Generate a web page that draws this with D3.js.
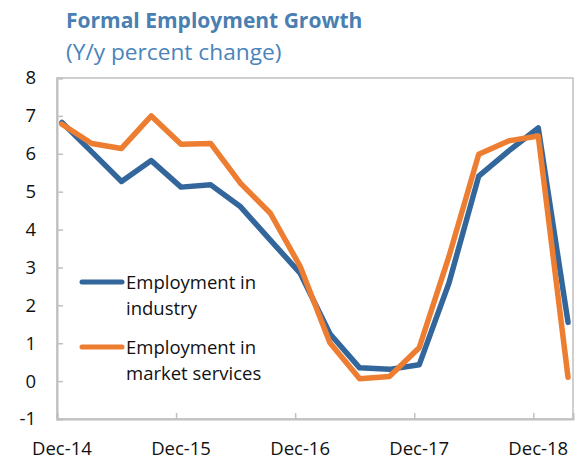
<!DOCTYPE html>
<html>
<head>
<meta charset="utf-8">
<script src="https://cdn.jsdelivr.net/npm/d3@7"></script>
<style>
  html, body { margin: 0; padding: 0; background: #fff; }
  svg { display: block; font-family: "Open Sans", "Noto Sans", sans-serif; }
</style>
</head>
<body>
<svg id="chart" width="580" height="462"></svg>
<script>
// Quarterly observations, Dec-14 through Mar-19
const quarters = ["Dec-14","Mar-15","Jun-15","Sep-15","Dec-15","Mar-16","Jun-16","Sep-16",
                  "Dec-16","Mar-17","Jun-17","Sep-17","Dec-17","Mar-18","Jun-18","Sep-18",
                  "Dec-18","Mar-19"];
const industry = [6.83, 6.05, 5.27, 5.82, 5.12, 5.18, 4.60, 3.72, 2.85, 1.25, 0.35, 0.31,
                  0.43, 2.59, 5.41, 6.07, 6.68, 1.55];
const services = [6.78, 6.27, 6.14, 7.00, 6.25, 6.27, 5.22, 4.43, 3.03, 1.01, 0.06, 0.12,
                  0.88, 3.29, 5.99, 6.34, 6.47, 0.10];
const seriesNames = [["Employment in", "industry"], ["Employment in", "market services"]];
const xTickLabels = ["Dec-14", "Dec-15", "Dec-16", "Dec-17", "Dec-18"];
const yTicks = [-1, 0, 1, 2, 3, 4, 5, 6, 7, 8];

const colors = ["#33679b", "#ed7d31"];
const svg = d3.select("#chart");

const plot = { left: 57, right: 573, top: 78, bottom: 419 };

// Monthly date axis: each quarter's point sits mid-month, year ticks on month boundaries
const months = quarters.length * 3 - 2;            // Dec-14 .. Mar-19 inclusive
const x = d3.scaleLinear().domain([0, months]).range([plot.left, plot.right]);
const y = d3.scaleLinear().domain([-1, 8]).range([plot.bottom, plot.top]);
const monthOf = i => i * 3 + 0.5;

// Title
svg.append("text").attr("x", 66).attr("y", 28)
  .attr("fill", "#4a7fb2").attr("font-weight", "bold").attr("font-size", 21)
  .text("Formal Employment Growth");
svg.append("text").attr("x", 66).attr("y", 60)
  .attr("fill", "#4a84bb").attr("font-size", 22.7)
  .text("(Y/y percent change)");

// Plot frame
svg.append("rect")
  .attr("x", plot.left).attr("y", plot.top)
  .attr("width", plot.right - plot.left).attr("height", plot.bottom - plot.top)
  .attr("fill", "none").attr("stroke", "#c0c0c0").attr("stroke-width", 1.5);

// Y axis: inward ticks
const yAxis = d3.axisRight(y).tickValues(yTicks).tickSize(6).tickFormat("");
const gy = svg.append("g").attr("transform", `translate(${plot.left},0)`).call(yAxis);
gy.select(".domain").attr("stroke", "#c0c0c0").attr("stroke-width", 2);
gy.selectAll(".tick line").attr("stroke", "#c0c0c0").attr("stroke-width", 1.5);
svg.append("g").selectAll("text").data(yTicks).join("text")
  .attr("x", 36).attr("y", d => y(d)).attr("dy", "0.35em")
  .attr("text-anchor", "end").attr("font-size", 18.5).attr("fill", "#111")
  .text(d => d);

// X axis: year ticks pointing up, labels centred on the December points
const yearTicks = xTickLabels.map((_, j) => j * 12);
const xAxis = d3.axisTop(x).tickValues(yearTicks).tickSize(6).tickFormat("");
const gx = svg.append("g").attr("transform", `translate(0,${plot.bottom})`).call(xAxis);
gx.select(".domain").attr("stroke", "#c0c0c0").attr("stroke-width", 2);
gx.selectAll(".tick line").attr("stroke", "#c0c0c0").attr("stroke-width", 1.5);
svg.append("g").selectAll("text").data(xTickLabels).join("text")
  .attr("x", (d, j) => x(j * 12 + 0.5)).attr("y", 455)
  .attr("text-anchor", "middle").attr("font-size", 18.5).attr("fill", "#111")
  .text(d => d);

// Series lines
const line = d3.line().x((d, i) => x(monthOf(i))).y(d => y(d));
[industry, services].forEach((vals, s) => {
  svg.append("path").datum(vals)
    .attr("d", line)
    .attr("fill", "none").attr("stroke", colors[s]).attr("stroke-width", 5.5)
    .attr("stroke-linejoin", "round").attr("stroke-linecap", "round");
});

// Legend
const legend = svg.append("g");
const legendRows = [282, 347];
seriesNames.forEach((lines, s) => {
  const ly = legendRows[s];
  legend.append("line").attr("x1", 82).attr("x2", 122).attr("y1", ly).attr("y2", ly)
    .attr("stroke", colors[s]).attr("stroke-width", 5).attr("stroke-linecap", "round");
  lines.forEach((t, k) => {
    legend.append("text").attr("x", 126).attr("y", ly + 6.5 + k * 26.5)
      .attr("font-size", 18.5).attr("fill", "#111").text(t);
  });
});
</script>
</body>
</html>
